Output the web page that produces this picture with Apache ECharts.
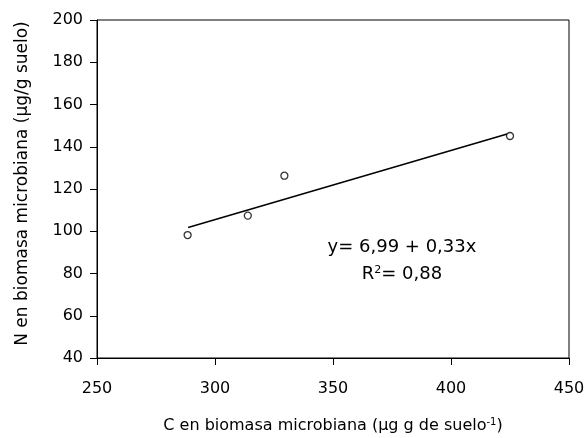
<!DOCTYPE html>
<html>
<head>
<meta charset="utf-8">
<script src="https://cdn.jsdelivr.net/npm/echarts@6/dist/echarts.min.js"></script>
<style>html,body{margin:0;padding:0;background:#fff}#c{width:586px;height:438px}</style>
</head>
<body>
<div id="c"></div>
<script>
// Data
const obsC = [288.4, 313.9, 329.4, 425.0];
const obsN = [98.2, 107.4, 126.3, 145.1];
const fitC = [288.6, 423.8];
const fitN = [101.8, 146.0];
const xTicks = [250, 300, 350, 400, 450];
const yTicks = [40, 60, 80, 100, 120, 140, 160, 180, 200];
const eqText = 'y= 6,99 + 0,33x';
const r2Prefix = 'R';
const r2Value = '= 0,88';

const FONT = 'DejaVu Sans';
const chart = echarts.init(document.getElementById('c'), null, {renderer: 'canvas'});
chart.setOption({
  animation: false,
  backgroundColor: '#fff',
  grid: {left: 97, top: 20, right: 17, bottom: 80, show: true, borderColor: '#000', borderWidth: 1,
    containLabel: false, outerBoundsMode: 'none'},
  xAxis: {
    type: 'value', min: xTicks[0], max: xTicks[xTicks.length - 1], interval: 50,
    axisLine: {lineStyle: {color: '#000', width: 1}},
    axisTick: {show: true, inside: false, length: 7, lineStyle: {color: '#000'}},
    splitLine: {show: false},
    axisLabel: {color: '#000', fontFamily: FONT, fontSize: 16, margin: 23},
    name: 'C en biomasa microbiana (µg g de suelo{sup|-1})',
    nameLocation: 'middle', nameGap: 59,
    nameTextStyle: {color: '#000', fontFamily: FONT, fontSize: 16,
      rich: {sup: {fontSize: 10, verticalAlign: 'top', padding: [0, 0, 8, 0], fontFamily: FONT, color: '#000'}}}
  },
  yAxis: {
    type: 'value', min: yTicks[0], max: yTicks[yTicks.length - 1], interval: 20,
    axisLine: {show: true, lineStyle: {color: '#000', width: 1}},
    axisTick: {show: true, inside: false, length: 7, lineStyle: {color: '#000'}},
    splitLine: {show: false},
    axisLabel: {color: '#000', fontFamily: FONT, fontSize: 16, margin: 14},
    name: 'N en biomasa microbiana (µg/g suelo)',
    nameLocation: 'middle', nameGap: 66,
    nameTextStyle: {color: '#000', fontFamily: FONT, fontSize: 17, padding: [0, 0, 0, 11]}
  },
  series: [
    {
      type: 'line', data: fitC.map((c, i) => [c, fitN[i]]),
      showSymbol: false, symbol: 'none', lineStyle: {color: '#000', width: 1.5}, silent: true, z: 2
    },
    {
      type: 'scatter', data: obsC.map((c, i) => [c, obsN[i]]),
      symbol: 'circle', symbolSize: 7,
      itemStyle: {color: '#fff', borderColor: '#000', borderWidth: 1.3}, z: 3
    }
  ],
  graphic: [
    {type: 'text', x: 402, y: 247, style: {text: eqText, font: '18px "DejaVu Sans"', fill: '#000', align: 'center', verticalAlign: 'middle'}},
    {type: 'text', x: 402, y: 274, style: {
      text: '{r|' + r2Prefix + '}{s|2}{r|' + r2Value + '}',
      align: 'center', verticalAlign: 'middle', fill: '#000',
      rich: {r: {fontSize: 18, fontFamily: FONT, fill: '#000'}, s: {fontSize: 11, fontFamily: FONT, verticalAlign: 'top', padding: [0,0,8,0], fill: '#000'}}
    }}
  ]
});
</script>
</body>
</html>
